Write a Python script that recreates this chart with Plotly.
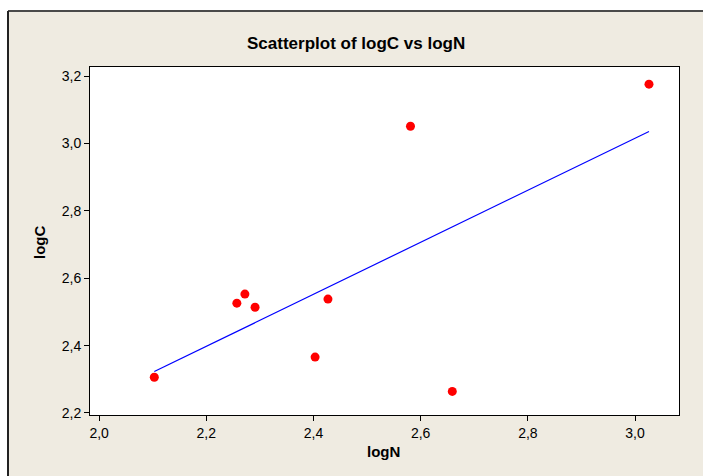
import numpy as np
import plotly.graph_objects as go

# Data
logN = [2.103, 2.257, 2.272, 2.291, 2.403, 2.427, 2.581, 2.659, 3.026]
logC = [2.306, 2.526, 2.553, 2.514, 2.366, 2.538, 3.051, 2.264, 3.176]
x_ticks = [2.0, 2.2, 2.4, 2.6, 2.8, 3.0]
y_ticks = [2.2, 2.4, 2.6, 2.8, 3.0, 3.2]

W, H = 703, 476
L, R, T, B = 90, 679, 67, 415  # plot box in pixels


def xp(px):
    return (px - L) / (R - L)


def yp(py):
    return (B - py) / (B - T)


slope, intercept = np.polyfit(logN, logC, 1)
fit_x = [min(logN), max(logN)]
fit_y = [intercept + slope * v for v in fit_x]

fig = go.Figure()
fig.add_trace(go.Scatter(x=fit_x, y=fit_y, mode="lines",
                         line=dict(color="#0000FF", width=1.2),
                         hoverinfo="skip", showlegend=False))
fig.add_trace(go.Scatter(x=logN, y=logC, mode="markers",
                         marker=dict(color="#FF0000", size=9),
                         showlegend=False))

font_family = "Liberation Sans, Arial, sans-serif"
axis_common = dict(showgrid=False, zeroline=False, showline=True, mirror=True,
                   linecolor="black", linewidth=1, ticks="outside", ticklen=5,
                   tickcolor="black", tickwidth=1, tickformat=".1f",
                   tickfont=dict(family=font_family, size=14, color="black"))

fig.update_layout(
    width=W, height=H,
    margin=dict(l=L, r=W - R, t=T, b=H - B),
    paper_bgcolor="#EFEBE1", plot_bgcolor="white",
    separators=", ",
    xaxis=dict(range=[1.983, 3.082], tickvals=x_ticks, **axis_common),
    yaxis=dict(range=[2.194, 3.227], tickvals=y_ticks, **axis_common),
    font=dict(family=font_family),
)

annotations = [
    dict(text="<b>Scatterplot of logC vs logN</b>", x=xp(356), y=yp(43),
         font=dict(size=17, color="black", family=font_family)),
    dict(text="<b>logN</b>", x=xp(383), y=yp(452),
         font=dict(size=15, color="black", family=font_family)),
    dict(text="<b>logC</b>", x=xp(39), y=yp(243), textangle=-90,
         font=dict(size=15, color="black", family=font_family)),
]
for a in annotations:
    a.update(xref="paper", yref="paper", showarrow=False,
             xanchor="center", yanchor="middle")
fig.update_layout(annotations=annotations)

shapes = [
    # white strips outside the window frame
    dict(type="rect", x0=xp(0), x1=xp(W), y0=yp(0), y1=yp(11),
         fillcolor="white", line=dict(width=0)),
    dict(type="rect", x0=xp(0), x1=xp(8), y0=yp(0), y1=yp(H),
         fillcolor="white", line=dict(width=0)),
    # dark frame lines
    dict(type="line", x0=xp(8), x1=xp(W), y0=yp(11), y1=yp(11),
         line=dict(color="#4A4A4A", width=2)),
    dict(type="line", x0=xp(8), x1=xp(8), y0=yp(11), y1=yp(H),
         line=dict(color="#222222", width=2)),
]
for s in shapes:
    s.update(xref="paper", yref="paper", layer="below")
fig.update_layout(shapes=shapes)

fig.write_html("out.html")
